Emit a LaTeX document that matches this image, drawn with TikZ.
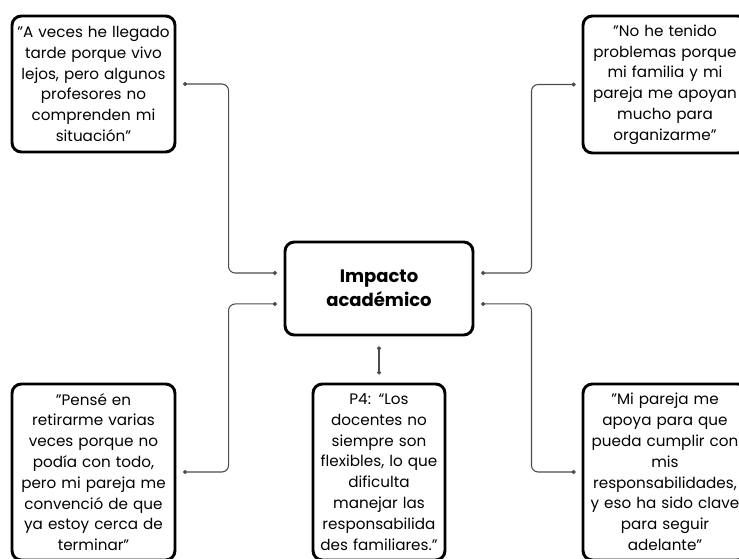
\documentclass[tikz,border=0pt]{standalone}
\usepackage{fontspec}
\setmainfont{Poppins}
\usetikzlibrary{arrows.meta,positioning}

\begin{document}
\begin{tikzpicture}
     [x=0.75pt,y=-0.75pt,line cap=round,line join=round,
     %boxes with the quotes (width, height)
     cita/.style 2 args={draw=black,line width=2.2pt,rounded corners=7pt,fill=white,
       minimum width=#1,text width=#1,minimum height=#2,align=center,
       inner xsep=0pt,inner ysep=0pt,font=\fontsize{11.4}{15.6}\selectfont},
     %links between the centre and the quotes
     enlace/.style={draw=black!70,line width=0.8pt,rounded corners=5pt,
       {Circle[length=3pt]}-{Circle[length=3pt]}}]

\useasboundingbox (0,0) rectangle (739,559);
\clip (0,0) rectangle (739,559);

%centre node
  \node[cita={141pt}{69.75pt},font=\bfseries\fontsize{13.5}{18}\selectfont]
     (impacto) at (379,288.5) {Impacto\\ académico};

%the quotes
  \node[cita={122.25pt}{102pt}] (citaA) at (93.5,84)
     {"A veces he llegado\\ tarde porque vivo\\ lejos, pero algunos\\ profesores no\\ comprenden mi\\ situación"};
  \node[cita={123pt}{102.75pt}] (citaB) at (665,84.5)
     {"No he tenido\\ problemas porque\\ mi familia y mi\\ pareja me apoyan\\ mucho para\\ organizarme"};
  \node[cita={122.25pt}{132pt}] (citaC) at (93.5,472)
     {"Pensé en\\ retirarme varias\\ veces porque no\\ podía con todo,\\ pero mi pareja me\\ convenció de que\\ ya estoy cerca de\\ terminar"};
  \node[cita={99pt}{132pt}] (citaD) at (379,472)
     {P4: “Los\\ docentes no\\ siempre son\\ flexibles, lo que\\ dificulta\\ manejar las\\ responsabilida\\ des familiares.”};
  \node[cita={123pt}{132pt}] (citaE) at (665,472)
     {"Mi pareja me\\ apoya para que\\ pueda cumplir con\\ mis\\ responsabilidades,\\ y eso ha sido clave\\ para seguir\\ adelante"};

%links
  \draw[enlace,shorten <=5pt,shorten >=5pt] ([yshift=11.6pt]impacto.west) -- ++(-55,0) |- (citaA.east);
  \draw[enlace,shorten <=5pt,shorten >=5pt] ([yshift=-11.6pt]impacto.west) -- ++(-55,0) |- (citaC.east);
  \draw[enlace,shorten <=5pt,shorten >=4.5pt] ([yshift=11.6pt]impacto.east) -- ++(57,0) |- (citaB.west);
  \draw[enlace,shorten <=5pt,shorten >=4.5pt] ([yshift=-11.6pt]impacto.east) -- ++(57,0) |- (citaE.west);
  \draw[enlace,shorten <=7.5pt,shorten >=6pt] (impacto.south) -- (citaD.north);
\end{tikzpicture}
\end{document}
